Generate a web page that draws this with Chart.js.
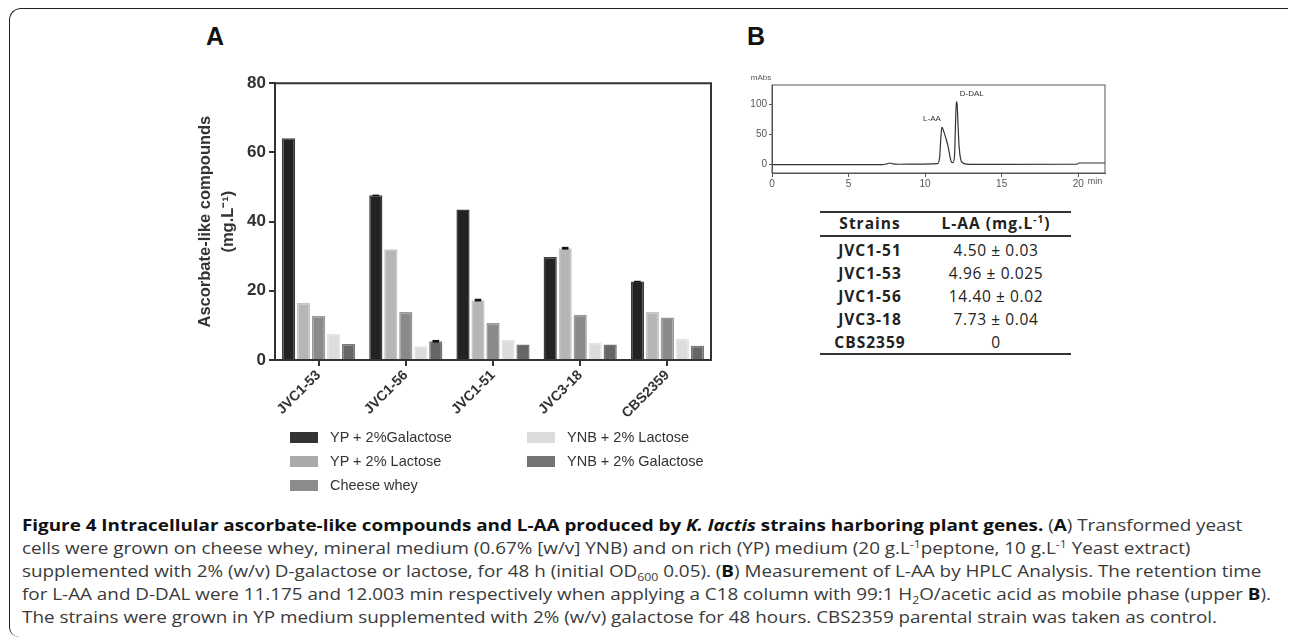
<!DOCTYPE html>
<html>
<head>
<meta charset="utf-8">
<script src="https://cdn.jsdelivr.net/npm/chart.js@4.4.0/dist/chart.umd.min.js"></script>
<style>
  body { margin:0; background:#fff; width:1290px; height:638px; overflow:hidden; position:relative;
         font-family:"Liberation Sans", Arial, sans-serif; color:#333; }
  #frame { position:absolute; left:9px; top:8px; width:1278px; height:628px;
           border-top:1.5px solid #222; border-left:1.5px solid #222;
           border-top-left-radius:12px; border-bottom-left-radius:10px; }
  .panel { position:absolute; font:bold 25px "Liberation Sans", Arial, sans-serif; color:#111; }
  #barWrap { position:absolute; left:140px; top:70px; }
  #hplcWrap { position:absolute; left:740px; top:70px; }
  .leg { position:absolute; font-size:14.5px; color:#333; white-space:nowrap; line-height:16px; }
  .leg i { position:absolute; left:-40px; top:3px; width:28px; height:11px; }
  .tbl { position:absolute; font-family:"Open Sans", sans-serif; font-size:15.5px; white-space:nowrap;
         transform:translate(-50%,-50%); letter-spacing:0.6px; color:#222; }
  .tbl.b { font-weight:bold; letter-spacing:1px; }
  .rule { position:absolute; left:820px; width:251px; height:2px; background:#333; }
  .cap { position:absolute; left:22px; font-family:"Open Sans", sans-serif; font-size:16px; color:#3a3a3a;
         white-space:nowrap; transform-origin:0 50%; line-height:20px; }
  .cap b { color:#111; }
  sup, sub { font-size:65%; line-height:0; }
</style>
</head>
<body>
<div id="frame"></div>
<div class="panel" style="left:206px;top:22px">A</div>
<div class="panel" style="left:747px;top:22px">B</div>
<div id="barWrap"><canvas id="barChart" width="590" height="370"></canvas></div>
<div id="hplcWrap"><canvas id="hplcChart" width="380" height="130"></canvas></div>
<div id="legend"></div>
<div id="table"></div>
<div id="caption"></div>
<script>
// panel A: strains and the five growth media
const strains = ['JVC1-53', 'JVC1-56', 'JVC1-51', 'JVC3-18', 'CBS2359'];
const ypGalactose  = [64.1, 47.6, 43.5, 29.8, 22.7];
const ypLactose    = [16.5, 32.0, 17.3, 32.3, 13.9];
const cheeseWhey   = [12.7, 13.9, 10.7, 13.1, 12.3];
const ynbLactose   = [7.5, 4.0, 5.8, 5.0, 6.1];
const ynbGalactose = [4.6, 5.4, 4.5, 4.5, 4.1];
// small error bars (only a few are visible)
const errYpGalactose  = [0, 0.2, 0, 0, 0.2];
const errYpLactose    = [0, 0, 0.4, 0.4, 0];
const errCheeseWhey   = [0, 0, 0, 0, 0];
const errYnbLactose   = [0, 0, 0, 0, 0];
const errYnbGalactose = [0, 0.4, 0, 0, 0];
const yTicksA = [0, 20, 40, 60, 80];

// panel B: HPLC trace (min, mAbs)
const hplcTime = [0, 7.2, 7.5, 7.7, 7.9, 8.3, 9.5, 10.8, 10.95, 11.03, 11.1, 11.2, 11.35, 11.5, 11.62, 11.72,
                  11.82, 11.92, 11.98, 12.04, 12.09, 12.15, 12.22, 12.32, 12.45, 12.7, 14, 19.9, 20.05, 21.75];
const hplcAbs  = [0, 0, 1.2, 2.5, 1, 0.5, 0.8, 1.5, 12, 45, 62, 56, 44, 30, 14, 4,
                  3, 14, 62, 104, 100, 66, 30, 9, 3, 0.8, 0.3, 0.5, 2.5, 2.5];
const xTicksB = [0, 5, 10, 15, 20];
const yTicksB = [0, 50, 100];
const peakNames = ['L-AA', 'D-DAL'];
const peakLabelX = [10.45, 13.05];
const peakLabelY = [75, 117];

// table
const tableStrains = ['JVC1-51', 'JVC1-53', 'JVC1-56', 'JVC3-18', 'CBS2359'];
const tableLAA = ['4.50 ± 0.03', '4.96 ± 0.025', '14.40 ± 0.02', '7.73 ± 0.04', '0'];

const media = [
  {label: 'YP + 2%Galactose',   data: ypGalactose,  err: errYpGalactose,  fill: '#222222', edge: '#3c3c3c', key: '#333'},
  {label: 'YP + 2% Lactose',    data: ypLactose,    err: errYpLactose,    fill: '#b6b6b6', edge: '#c6c6c6', key: '#aaa'},
  {label: 'Cheese whey',        data: cheeseWhey,   err: errCheeseWhey,   fill: '#8a8a8a', edge: '#999999', key: '#8c8c8c'},
  {label: 'YNB + 2% Lactose',   data: ynbLactose,   err: errYnbLactose,   fill: '#dcdcdc', edge: '#e4e4e4', key: '#dcdcdc'},
  {label: 'YNB + 2% Galactose', data: ynbGalactose, err: errYnbGalactose, fill: '#666666', edge: '#777777', key: '#747474'}
];

const errorBars = {
  id: 'errorBars',
  afterDatasetsDraw(chart) {
    const ctx = chart.ctx, y = chart.scales.y;
    ctx.save();
    ctx.fillStyle = '#111';
    chart.data.datasets.forEach((ds, di) => {
      chart.getDatasetMeta(di).data.forEach((bar, i) => {
        const e = ds.err[i];
        if (!e) return;
        const top = y.getPixelForValue(ds.data[i] + e);
        const bot = y.getPixelForValue(ds.data[i] - e);
        const w = bar.width * 0.5;
        ctx.fillRect(bar.x - w / 2, top, w, Math.max(bot - top, 1.5));
      });
    });
    ctx.restore();
  }
};

const boxA = {
  id: 'boxA',
  afterDraw(chart) {
    const {ctx, chartArea: a} = chart;
    ctx.save();
    ctx.strokeStyle = '#333';
    ctx.lineWidth = 2;
    ctx.beginPath();
    ctx.moveTo(a.left, a.top); ctx.lineTo(a.right, a.top); ctx.lineTo(a.right, a.bottom);
    ctx.stroke();
    ctx.restore();
  }
};

new Chart(document.getElementById('barChart'), {
  type: 'bar',
  data: {
    labels: strains,
    datasets: media.map(m => ({
      label: m.label, data: m.data, err: m.err,
      backgroundColor: m.fill, borderColor: m.edge, borderWidth: 1.5,
      categoryPercentage: 0.86, barPercentage: 0.88
    }))
  },
  options: {
    responsive: false, animation: false,
    layout: {padding: {top: 12, right: 19, left: 0, bottom: 0}},
    plugins: {legend: {display: false}, tooltip: {enabled: false}},
    scales: {
      x: {
        offset: true,
        grid: {offset: false, drawOnChartArea: false, tickLength: 6, color: '#333', lineWidth: 2},
        border: {color: '#333', width: 2},
        ticks: {minRotation: 45, maxRotation: 45, padding: 1, color: '#333',
                font: {family: '"Liberation Sans", Arial', size: 14, weight: 'bold'}},
        afterFit: s => { s.height = 80; }
      },
      y: {
        min: 0, max: 80,
        afterBuildTicks: s => { s.ticks = yTicksA.map(v => ({value: v})); },
        grid: {drawOnChartArea: false, tickLength: 6, color: '#333', lineWidth: 2},
        border: {color: '#333', width: 2},
        ticks: {padding: 3, color: '#333', font: {family: '"Liberation Sans", Arial', size: 17, weight: 'bold'}},
        title: {display: true, text: ['Ascorbate-like compounds', '(mg.L⁻¹)'], color: '#333',
                padding: {top: 54, bottom: 0},
                font: {family: '"Liberation Sans", Arial', size: 16.5, weight: 'bold', lineHeight: 1.4}},
        afterFit: s => { s.width = 135; }
      }
    }
  },
  plugins: [errorBars, boxA]
});

const hplcDecor = {
  id: 'hplcDecor',
  afterDraw(chart) {
    const {ctx, chartArea: a, scales: {x, y}} = chart;
    ctx.save();
    ctx.strokeStyle = '#555';
    ctx.lineWidth = 1;
    ctx.strokeRect(a.left, a.top, a.right - a.left, a.bottom - a.top);
    ctx.fillStyle = '#333';
    ctx.font = '8px "Liberation Sans", Arial';
    ctx.textAlign = 'center';
    ctx.textBaseline = 'middle';
    peakNames.forEach((n, i) => ctx.fillText(n, x.getPixelForValue(peakLabelX[i]), y.getPixelForValue(peakLabelY[i])));
    ctx.fillStyle = '#555';
    ctx.fillText('mAbs', a.left - 11, a.top - 7);
    ctx.font = '9px "Liberation Sans", Arial';
    ctx.fillText('min', x.getPixelForValue(21.1), a.bottom + 9);
    ctx.restore();
  }
};

new Chart(document.getElementById('hplcChart'), {
  type: 'line',
  data: {
    datasets: [{
      data: hplcTime.map((t, i) => ({x: t, y: hplcAbs[i]})),
      borderColor: '#333', borderWidth: 1.2, pointRadius: 0,
      cubicInterpolationMode: 'monotone', fill: false
    }]
  },
  options: {
    responsive: false, animation: false,
    layout: {padding: {top: 15, right: 15, left: 0, bottom: 0}},
    plugins: {legend: {display: false}, tooltip: {enabled: false}},
    scales: {
      x: {
        type: 'linear', min: 0, max: 21.75,
        afterBuildTicks: s => { s.ticks = xTicksB.map(v => ({value: v})); },
        grid: {drawOnChartArea: false, tickLength: 4, color: '#555'},
        border: {color: '#555'},
        ticks: {padding: 1, color: '#555', font: {family: '"Liberation Sans", Arial', size: 10}},
        afterFit: s => { s.height = 27; }
      },
      y: {
        min: -14, max: 131.5,
        afterBuildTicks: s => { s.ticks = yTicksB.map(v => ({value: v})); },
        grid: {drawOnChartArea: false, tickLength: 3, color: '#555'},
        border: {color: '#555'},
        ticks: {padding: 2, color: '#555', font: {family: '"Liberation Sans", Arial', size: 10}},
        afterFit: s => { s.width = 32; }
      }
    }
  },
  plugins: [hplcDecor]
});

// legend, two columns filled top to bottom
let legHtml = '';
media.forEach((m, i) => {
  const col = i < 3 ? 0 : 1, row = i < 3 ? i : i - 3;
  legHtml += `<div class="leg" style="left:${330 + col * 237}px;top:${429 + row * 24}px">` +
             `<i style="background:${m.key}"></i>${m.label}</div>`;
});
document.getElementById('legend').innerHTML = legHtml;

// table
let t = '<div class="rule" style="top:211px"></div><div class="rule" style="top:235px"></div>' +
        '<div class="rule" style="top:353px"></div>' +
        '<div class="tbl b" style="left:870px;top:223px">Strains</div>' +
        '<div class="tbl b" style="left:996px;top:223px">L-AA (mg.L<sup>-1</sup>)</div>';
tableStrains.forEach((s, i) => {
  t += `<div class="tbl b" style="left:870px;top:${250 + i * 23}px">${s}</div>` +
       `<div class="tbl" style="left:996px;top:${250 + i * 23}px">${tableLAA[i]}</div>`;
});
document.getElementById('table').innerHTML = t;

// caption: one common horizontal squeeze, fitted on the longest line
const capLines = [
  '<b>Figure 4 Intracellular ascorbate-like compounds and L-AA produced by <i>K. lactis</i> strains harboring plant genes.</b> (<b>A</b>) Transformed yeast',
  'cells were grown on cheese whey, mineral medium (0.67% [w/v] YNB) and on rich (YP) medium (20 g.L<sup>-1</sup>peptone, 10 g.L<sup>-1</sup> Yeast extract)',
  'supplemented with 2% (w/v) D-galactose or lactose, for 48 h (initial OD<sub>600</sub> 0.05). (<b>B</b>) Measurement of L-AA by HPLC Analysis. The retention time',
  'for L-AA and D-DAL were 11.175 and 12.003 min respectively when applying a C18 column with 99:1 H<sub>2</sub>O/acetic acid as mobile phase (upper <b>B</b>).',
  'The strains were grown in YP medium supplemented with 2% (w/v) galactose for 48 hours. CBS2359 parental strain was taken as control.'
];
const capMid = [525, 548, 571, 594, 617];
const capBox = document.getElementById('caption');
const capDivs = capLines.map((txt, i) => {
  const d = document.createElement('div');
  d.className = 'cap';
  d.innerHTML = txt;
  d.style.top = (capMid[i] - 10) + 'px';
  capBox.appendChild(d);
  return d;
});
const k = (1271 - 22) / capDivs[3].getBoundingClientRect().width;
capDivs.forEach(d => { d.style.transform = `scaleX(${k})`; });
</script>
</body>
</html>
